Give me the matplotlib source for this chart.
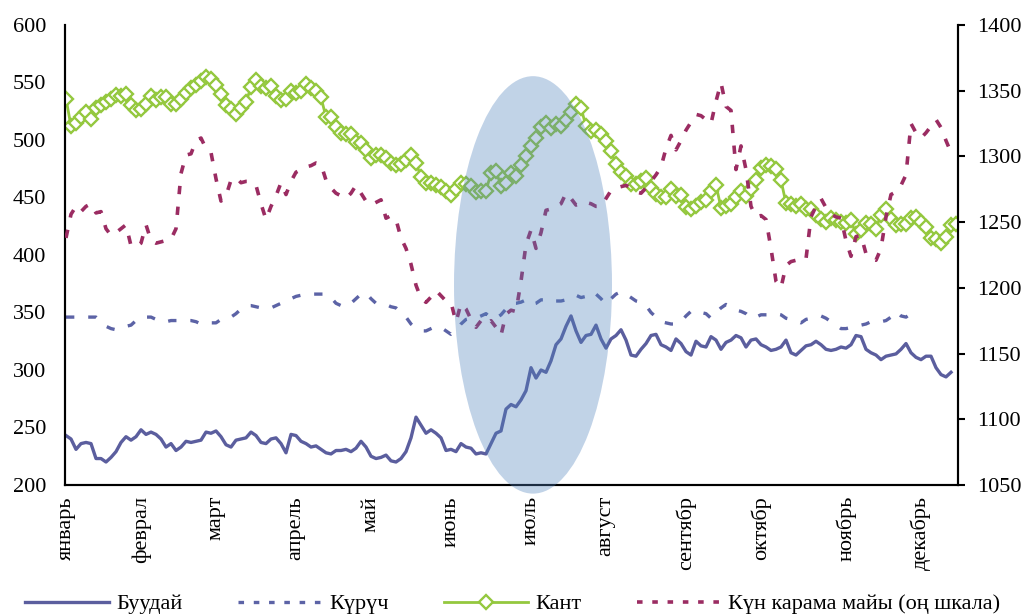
import numpy as np
import matplotlib
matplotlib.use('Agg')
import matplotlib.pyplot as plt
from matplotlib.patches import Ellipse
from matplotlib.lines import Line2D

plt.rcParams['font.family'] = ['Liberation Serif', 'DejaVu Serif']
plt.rcParams['lines.scale_dashes'] = False

nan = np.nan

months = ['январь', 'феврал', 'март', 'апрель', 'май', 'июнь', 'июль',
          'август', 'сентябр', 'октябр', 'ноябрь', 'декабрь']
month_idx = [0, 15, 30, 46, 61, 77, 93, 108, 124, 139, 156, 171]

series_names = ['Буудай', 'Күрүч', 'Кант', 'Күн карама майы (оң шкала)']

wheat = [
    243, 240, 231, 236, 237, 236, 223, 223, 220, 224,
    229, 237, 242, 239, 242, 248, 244, 246, 244, 240,
    233, 236, 230, 233, 238, 237, 238, 239, 246, 245,
    247, 242, 235, 233, 239, 240, 241, 246, 243, 237,
    236, 240, 241, 236, 228, 244, 243, 238, 236, 233,
    234, 231, 228, 227, 230, 230, 231, 229, 232, 238,
    233, 225, 223, 224, 226, 221, 220, 223, 229, 241,
    259, 252, 245, 248, 245, 241, 230, 231, 229, 236,
    233, 232, 227, 228, 227, 236, 245, 247, 266, 270,
    268, 274, 282, 302, 293, 300, 298, 308, 322, 327,
    338, 347, 334, 324, 330, 331, 339, 327, 319, 327,
    330, 335, 326, 313, 312, 318, 323, 330, 331, 322,
    320, 317, 327, 323, 316, 313, 325, 321, 320, 329,
    326, 318, 324, 326, 330, 328, 320, 326, 327, 322,
    320, 317, 318, 320, 326, 315, 313, 317, 321, 322,
    325, 322, 318, 317, 318, 320, 319, 322, 330, 329,
    318, 315, 313, 309, 312, 313, 314, 318, 323, 315,
    311, 309, 312, 312, 302, 296, 294, 298, nan,
]

rice = [
    346, 346, 346, 346, 346, 346, 346, 342, 338, 336,
    335, 337, 338, 339, 343, 346, 346, 346, 344, 342,
    342, 343, 343, 343, 343, 343, 342, 340, 340, 341,
    341, 344, 346, 346, 349, 353, 356, 356, 355, 354,
    354, 354, 356, 358, 361, 362, 364, 365, 366, 366,
    366, 366, 366, 363, 358, 356, 355, 358, 362, 366,
    367, 362, 358, 357, 357, 355, 354, 350, 346, 340,
    336, 334, 334, 336, 338, 337, 334, 331, 334, 340,
    344, 345, 345, 347, 349, 345, 345, 348, 353, 358,
    358, 359, 361, 357, 358, 361, 361, 359, 360, 360,
    361, 364, 365, 363, 364, 368, 366, 362, 357, 362,
    366, 368, 366, 363, 360, 359, 356, 350, 346, 342,
    341, 340, 340, 342, 347, 351, 352, 350, 349, 345,
    350, 354, 357, 355, 352, 351, 349, 345, 346, 348,
    348, 348, 349, 348, 345, 344, 343, 341, 344, 345,
    346, 347, 345, 342, 339, 336, 336, 337, 338, 339,
    340, 342, 342, 342, 343, 346, 351, 347, 346, 349,
    352, nan, nan, nan, nan, nan, nan, nan, nan,
]

kant = [
    536, 512, 515, 520, 524, 518, 528, 530, 533, 536,
    539, 538, 540, 530, 526, 527, 531, 538, 535, 537,
    537, 531, 531, 536, 541, 545, 548, 551, 555, 553,
    548, 540, 530, 527, 523, 528, 533, 546, 552, 547,
    545, 547, 538, 535, 536, 543, 541, 543, 549, 545,
    543, 537, 520, 520, 511, 506, 505, 505, 498, 497,
    491, 484, 487, 487, 484, 480, 478, 479, 483, 487,
    480, 468, 463, 463, 461, 459, 456, 452, 457, 463,
    462, 460, 455, 456, 456, 471, 473, 460, 463, 471,
    469, 478, 486, 495, 502, 511, 515, 510, 514, 512,
    517, 524, 531, 528, 512, 508, 509, 505, 499, 490,
    479, 472, 469, 462, 462, 464, 467, 458, 453, 450,
    450, 457, 451, 452, 442, 440, 443, 446, 448, 456,
    461, 441, 443, 444, 450, 456, 451, 457, 465, 476,
    478, 477, 475, 465, 445, 444, 443, 444, 440, 440,
    435, 431, 429, 432, 430, 429, 428, 430, 418, 422,
    428, 427, 423, 435, 440, 431, 426, 427, 427, 432,
    433, 429, 424, 415, 414, 410, 416, 426, 427,
]

oil = [
    1238, 1256, 1262, 1258, 1262, 1264, 1257, 1258, 1245, 1240,
    1242, 1245, 1248, 1232, 1231, 1234, 1248, 1236, 1234, 1235,
    1236, 1237, 1245, 1287, 1301, 1302, 1312, 1314, 1306, 1303,
    1283, 1266, 1270, 1282, 1284, 1280, 1281, 1281, 1278, 1264,
    1252, 1262, 1270, 1280, 1271, 1281, 1288, 1290, 1292, 1293,
    1295, 1294, 1282, 1276, 1272, 1270, 1268, 1272, 1278, 1272,
    1266, 1263, 1265, 1267, 1253, 1255, 1252, 1238, 1230, 1218,
    1202, 1192, 1189, 1193, 1198, 1194, 1190, 1189, 1174, 1188,
    1184, 1176, 1170, 1175, 1172, 1175, 1170, 1164, 1180, 1183,
    1182, 1205, 1233, 1244, 1230, 1242, 1259, 1260, 1262, 1264,
    1272, 1268, 1263, 1264, 1265, 1264, 1262, 1262, 1268, 1274,
    1276, 1277, 1278, 1276, 1273, 1272, 1276, 1281, 1286, 1292,
    1306, 1316, 1305, 1312, 1320, 1326, 1332, 1331, 1328, 1325,
    1342, 1356, 1338, 1335, 1290, 1308, 1290, 1262, 1254, 1255,
    1252, 1230, 1205, 1200, 1217, 1220, 1221, 1220, 1222, 1254,
    1262, 1268, 1261, 1256, 1254, 1253, 1236, 1224, 1239, 1240,
    1226, 1222, 1221, 1230, 1254, 1271, 1273, 1278, 1286, 1325,
    1318, 1314, 1318, 1323, 1328, 1322, 1312, 1303, nan,
]

c_wheat = '#5b5e9e'
c_rice = '#5c63a6'
c_kant = '#94c83e'
c_oil = '#9b2c62'

fig = plt.figure(figsize=(10.25, 6.16), dpi=100)
ax = fig.add_axes([65 / 1025, 1 - 485 / 616, (958 - 65) / 1025, 460 / 616])
ax2 = ax.twinx()

x = np.arange(len(kant))
ax.plot(x, np.array(rice, float), color=c_rice, lw=2.4, ls=(0, (6, 10)), zorder=2)
ax.plot(x, np.array(wheat, float), color=c_wheat, lw=2.4, zorder=3)
ax.plot(x, np.array(kant, float), color=c_kant, lw=2.0, marker='D', ms=7.2,
        mfc='white', mec=c_kant, mew=1.7, zorder=4)
ax2.plot(x, np.array(oil, float), color=c_oil, lw=2.6, ls=(0, (6, 9)), zorder=3)

ax.set_xlim(-0.2, 178.4)
ax.set_ylim(200, 600)
ax2.set_ylim(1050, 1400)
ax.set_yticks(np.arange(200, 601, 50))
ax2.set_yticks(np.arange(1050, 1401, 50))
ax.set_xticks(month_idx)
ax.set_xticklabels(months, rotation=90, va='top', ha='center')

ax.tick_params(axis='y', length=0, pad=13.5, labelsize=16)
ax.tick_params(axis='x', length=0, pad=8, labelsize=16)
ax2.tick_params(axis='y', length=5, width=1.5, direction='out', pad=8.5, labelsize=16)

for a in (ax, ax2):
    a.spines['top'].set_visible(False)
    for s in ('left', 'right', 'bottom'):
        a.spines[s].set_linewidth(1.5)
        a.spines[s].set_color('black')

ell = Ellipse((93.4, 374), 31.6, 363, transform=ax.transData,
              facecolor='#4f81bd', edgecolor='none', alpha=0.35,
              clip_on=False, zorder=10)
ax2.add_patch(ell)

handles = [
    Line2D([], [], color=c_wheat, lw=2.4),
    Line2D([], [], color=c_rice, lw=2.4, ls=(0, (4, 7))),
    Line2D([], [], color=c_kant, lw=2.0, marker='D', ms=7.2, mfc='white',
           mec=c_kant, mew=1.7),
    Line2D([], [], color=c_oil, lw=2.6, ls=(0, (4, 7))),
]
fig.legend(handles, series_names, loc='center', bbox_to_anchor=(0.5, 1 - 604 / 616),
           ncol=4, frameon=False, fontsize=16, handlelength=3.8,
           handletextpad=0.3, columnspacing=2.5)

fig.savefig('out.png', dpi=100)
